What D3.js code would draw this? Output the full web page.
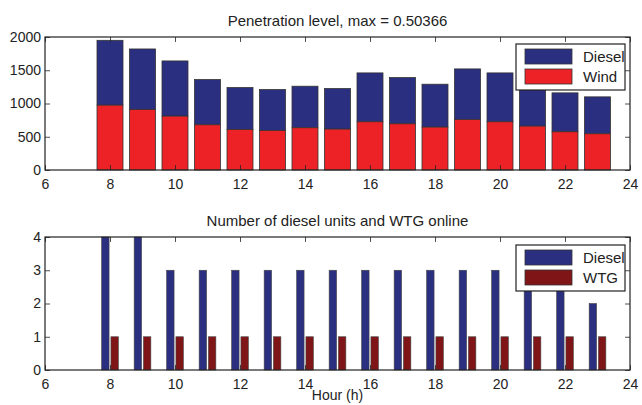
<!DOCTYPE html>
<html>
<head>
<meta charset="utf-8">
<script src="https://cdn.jsdelivr.net/npm/d3@7"></script>
<style>
  body { margin: 0; background: #fff; }
  text { font-family: "Liberation Sans", Arial, sans-serif; fill: #222; }
</style>
</head>
<body>
<div id="chart"></div>
<script>
var svgWidth = 642;
var svgHeight = 405;

// Data
var hours = [8, 9, 10, 11, 12, 13, 14, 15, 16, 17, 18, 19, 20, 21, 22, 23];
var windPower = [975, 910, 810, 680, 610, 595, 635, 615, 725, 695, 645, 760, 725, 660, 575, 545];
var totalPower = [1950, 1820, 1640, 1360, 1240, 1210, 1260, 1225, 1460, 1390, 1290, 1520, 1460, 1330, 1160, 1100];
var dieselUnits = [4, 4, 3, 3, 3, 3, 3, 3, 3, 3, 3, 3, 3, 3, 3, 2];
var wtgUnits = [1, 1, 1, 1, 1, 1, 1, 1, 1, 1, 1, 1, 1, 1, 1, 1];
var xTicks = [6, 8, 10, 12, 14, 16, 18, 20, 22, 24];
var powerTicks = [0, 500, 1000, 1500, 2000];
var unitTicks = [0, 1, 2, 3, 4];

var blue = "#2b2f80";
var red = "#ed2226";
var darkRed = "#801518";

var plotLeft = 45, plotRight = 630;

var svg = d3.select("#chart")
  .append("svg")
  .attr("width", svgWidth)
  .attr("height", svgHeight);

var x = d3.scaleLinear().domain([6, 24]).range([plotLeft, plotRight]);
var fmt = d3.format("d");

// draws the frame, ticks (inward, all sides) and tick labels of one axes box
function drawFrame(g, y, yTicks, top, bottom) {
  var tickLen = 5;
  g.append("g")
    .attr("transform", `translate(0,${bottom})`)
    .call(d3.axisBottom(x).tickValues(xTicks).tickSizeInner(-tickLen).tickSizeOuter(0).tickPadding(9).tickFormat(fmt))
    .call(a => a.select(".domain").remove());
  g.append("g")
    .attr("transform", `translate(0,${top})`)
    .call(d3.axisTop(x).tickValues(xTicks).tickSizeInner(-tickLen).tickSizeOuter(0).tickFormat(""))
    .call(a => a.select(".domain").remove());
  g.append("g")
    .attr("transform", `translate(${plotLeft},0)`)
    .call(d3.axisLeft(y).tickValues(yTicks).tickSizeInner(-tickLen).tickSizeOuter(0).tickPadding(4).tickFormat(fmt))
    .call(a => a.select(".domain").remove());
  g.append("g")
    .attr("transform", `translate(${plotRight},0)`)
    .call(d3.axisRight(y).tickValues(yTicks).tickSizeInner(-tickLen).tickSizeOuter(0).tickFormat(""))
    .call(a => a.select(".domain").remove());
  g.selectAll(".tick line").attr("stroke", "#222").attr("stroke-width", 0.8);
  g.selectAll(".tick text")
    .attr("font-size", "14px")
    .attr("font-family", "Liberation Sans, Arial, sans-serif")
    .attr("fill", "#222");
  g.append("rect")
    .attr("x", plotLeft)
    .attr("y", top)
    .attr("width", plotRight - plotLeft)
    .attr("height", bottom - top)
    .attr("fill", "none")
    .attr("stroke", "#222")
    .attr("stroke-width", 1.2);
}

function drawLegend(g, left, top, items) {
  var lg = g.append("g").attr("transform", `translate(${left},${top})`);
  lg.append("rect")
    .attr("width", 109).attr("height", 46)
    .attr("fill", "#fff").attr("stroke", "#222").attr("stroke-width", 1.2);
  items.forEach(function(it, i) {
    lg.append("rect")
      .attr("x", 9).attr("y", 5 + i * 20)
      .attr("width", 47).attr("height", 15)
      .attr("fill", it.color).attr("stroke", "#333").attr("stroke-width", 0.8);
    lg.append("text")
      .attr("x", 67).attr("y", 18 + i * 20)
      .attr("font-size", "15px")
      .text(it.label);
  });
}

// ---------- top: stacked power bars ----------
var top1 = 37, bottom1 = 170;
var y1 = d3.scaleLinear().domain([0, 2000]).range([bottom1, top1]);
var g1 = svg.append("g");
var barW = x(6.8) - x(6);

g1.selectAll(".diesel")
  .data(hours)
  .enter()
  .append("rect")
  .attr("x", d => x(d) - barW / 2)
  .attr("y", (d, i) => y1(totalPower[i]))
  .attr("width", barW)
  .attr("height", (d, i) => y1(windPower[i]) - y1(totalPower[i]))
  .attr("fill", blue)
  .attr("stroke", "#333")
  .attr("stroke-width", 0.8);

g1.selectAll(".wind")
  .data(hours)
  .enter()
  .append("rect")
  .attr("x", d => x(d) - barW / 2)
  .attr("y", (d, i) => y1(windPower[i]))
  .attr("width", barW)
  .attr("height", (d, i) => y1(0) - y1(windPower[i]))
  .attr("fill", red)
  .attr("stroke", "#333")
  .attr("stroke-width", 0.8);

drawFrame(g1, y1, powerTicks, top1, bottom1);
drawLegend(g1, 516, 44, [{label: "Diesel", color: blue}, {label: "Wind", color: red}]);

svg.append("text")
  .attr("x", (plotLeft + plotRight) / 2)
  .attr("y", 26)
  .attr("text-anchor", "middle")
  .attr("font-size", "15px")
  .text("Penetration level, max = 0.50366");

// ---------- bottom: grouped unit bars ----------
var top2 = 237, bottom2 = 370;
var y2 = d3.scaleLinear().domain([0, 4]).range([bottom2, top2]);
var g2 = svg.append("g");
var groupW = 2 / 3.5;
var unitW = x(6 + groupW / 2 * 0.8) - x(6);
var offset = groupW / 4;

g2.selectAll(".dunits")
  .data(hours)
  .enter()
  .append("rect")
  .attr("x", d => x(d - offset) - unitW / 2)
  .attr("y", (d, i) => y2(dieselUnits[i]))
  .attr("width", unitW)
  .attr("height", (d, i) => y2(0) - y2(dieselUnits[i]))
  .attr("fill", blue)
  .attr("stroke", "#444")
  .attr("stroke-width", 0.6);

g2.selectAll(".wunits")
  .data(hours)
  .enter()
  .append("rect")
  .attr("x", d => x(d + offset) - unitW / 2)
  .attr("y", (d, i) => y2(wtgUnits[i]))
  .attr("width", unitW)
  .attr("height", (d, i) => y2(0) - y2(wtgUnits[i]))
  .attr("fill", darkRed)
  .attr("stroke", "#444")
  .attr("stroke-width", 0.6);

drawFrame(g2, y2, unitTicks, top2, bottom2);
drawLegend(g2, 516, 245, [{label: "Diesel", color: blue}, {label: "WTG", color: darkRed}]);

svg.append("text")
  .attr("x", (plotLeft + plotRight) / 2)
  .attr("y", 226)
  .attr("text-anchor", "middle")
  .attr("font-size", "15px")
  .text("Number of diesel units and WTG online");

svg.append("text")
  .attr("x", (plotLeft + plotRight) / 2)
  .attr("y", 400)
  .attr("text-anchor", "middle")
  .attr("font-size", "14px")
  .text("Hour (h)");
</script>
</body>
</html>
